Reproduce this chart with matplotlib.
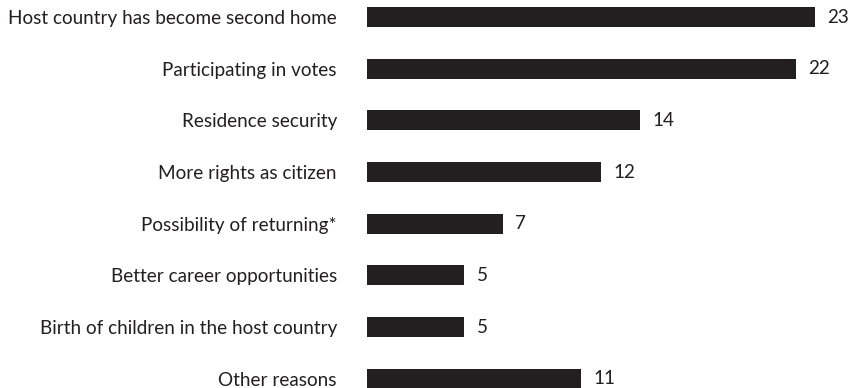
import matplotlib
matplotlib.use("Agg")
import matplotlib.pyplot as plt

reasons = [
    "Host country has become second home",
    "Participating in votes",
    "Residence security",
    "More rights as citizen",
    "Possibility of returning*",
    "Better career opportunities",
    "Birth of children in the host country",
    "Other reasons",
]
shares = [23, 22, 14, 12, 7, 5, 5, 11]

INK = "#231f20"
FS = 13.6
plt.rcParams["font.family"] = ["Lato", "DejaVu Sans"]

fig = plt.figure(figsize=(8.54, 3.88), dpi=100)
ax = fig.add_axes([367 / 854, 0, 487 / 854, 1])

pos = list(range(len(reasons)))
ax.barh(pos, shares, height=0.387, color=INK)

# value labels just right of each bar
for y, v in zip(pos, shares):
    ax.annotate(str(v), (v, y), xytext=(8.6, 0), textcoords="offset points",
                va="center", ha="left", fontsize=FS, color=INK)

ax.set_yticks(pos)
ax.set_yticklabels(reasons, fontsize=FS, color=INK)
ax.tick_params(axis="y", length=0, pad=21.6)
ax.set_xticks([])
ax.set_xlim(0, 487 / 19.5)
ax.set_ylim(7.18, -0.33)
for s in ax.spines.values():
    s.set_visible(False)

fig.savefig("out.png", dpi=100)
